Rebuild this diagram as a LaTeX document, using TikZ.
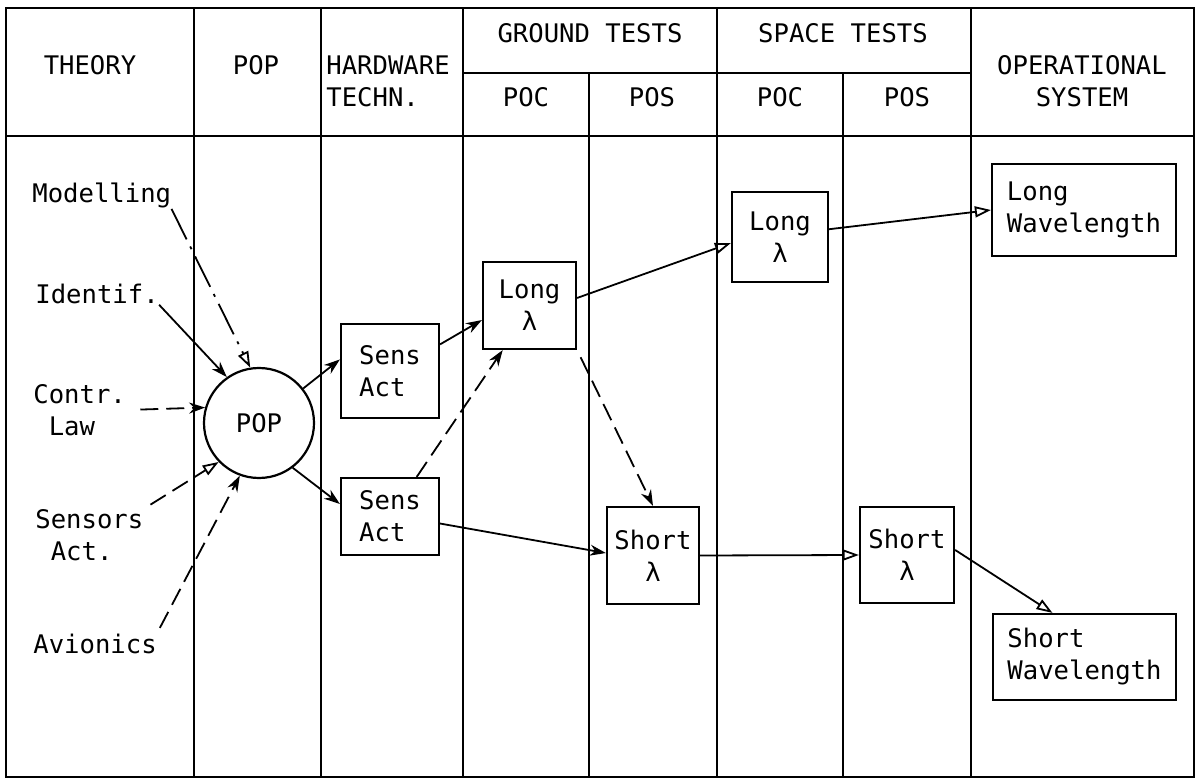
\documentclass[tikz,border=0pt]{standalone}
\usepackage{fontspec}
\setmainfont{DejaVu Sans Mono}
\usepackage{tikz}
\usetikzlibrary{arrows.meta}

\begin{document}
\begin{tikzpicture}[x=0.5pt, y=-0.5pt, >=Stealth,
    every node/.style={font=\fontsize{12.8}{16}\selectfont},
    lbl/.style={inner sep=0pt, align=left},
    blk/.style={draw, line width=1.1pt, inner sep=0pt},
    fillarr/.style={-{Stealth[length=8pt,width=5.5pt]}, line width=0.9pt},
    openarr/.style={-{Triangle[open,length=8pt,width=5.5pt]}, line width=0.9pt},
    dsh/.style={dash pattern=on 9pt off 4pt},
    dshdot/.style={dash pattern=on 17pt off 4pt on 1.5pt off 4pt}]
    \useasboundingbox (0,0) rectangle (1199,780);
    \draw[line width=1.4pt] (6,8) rectangle (1194,777);
    \foreach \x in {194,321,463,717,971}
        \draw[line width=1.4pt] (\x,8) -- (\x,777);
    \foreach \x in {589,843}
        \draw[line width=1.4pt] (\x,73) -- (\x,777);
    \draw[line width=1.4pt] (463,73) -- (971,73);
    \draw[line width=1.4pt] (6,136) -- (1194,136);
    \node (hth) at (90,65) {THEORY};
    \node (hpop) at (256,65) {POP};
    \node[lbl, anchor=west] (hhw) at (326,81) {HARDWARE\\TECHN.};
    \node (hgt) at (590,33) {GROUND TESTS};
    \node (hst) at (843,33) {SPACE TESTS};
    \foreach \x/\t/\n in {526/POC/gpoc,652/POS/gpos,780/POC/spoc,907/POS/spos}
        \node (\n) at (\x,97) {\t};
    \node[align=center] (hop) at (1082,81) {OPERATIONAL\\SYSTEM};
    \node[lbl, anchor=base west] (mod) at (32,203) {Modelling};
    \node[lbl, anchor=base west] (idf) at (35,304) {Identif.};
    \node[lbl, anchor=west] (ctl) at (33,410) {Contr.\\\phantom{x}Law};
    \node[lbl, anchor=west] (sns) at (35,535) {Sensors\\\phantom{x}Act.};
    \node[lbl, anchor=base west] (avi) at (33,653) {Avionics};
    \node[blk, circle, minimum size=55pt] (pop) at (259,423) {POP};
    \node[blk, minimum width=49pt, minimum height=47pt, align=left] (sa1) at (390,371) {Sens\\Act};
    \node[blk, minimum width=49pt, minimum height=38.5pt, align=left] (sa2) at (390,516.5) {Sens\\Act};
    \node[blk, minimum width=46.5pt, minimum height=43.5pt, align=center] (lg) at (529.5,305.5) {Long\\λ};
    \node[blk, minimum width=48pt, minimum height=45pt, align=center] (ls) at (780,237) {Long\\λ};
    \node[blk, minimum width=46pt, minimum height=48.5pt, align=center] (sg) at (653,555.5) {Short\\λ};
    \node[blk, minimum width=47pt, minimum height=48pt, align=center] (ss) at (907,555) {Short\\λ};
    \node[blk, minimum width=92pt, minimum height=46pt, align=left] (lw) at (1084,210) {Long\\Wavelength};
    \node[blk, minimum width=91.5pt, minimum height=43pt, align=left] (sw) at (1084.5,657) {Short\\Wavelength};
    \draw[dshdot, openarr] (mod.south east) -- (pop.99);
    \draw[fillarr] (idf.south east) -- (pop.125);
    \draw[dsh, fillarr, shorten <=7pt] (ctl.east) -- (pop.164);
    \draw[dsh, openarr, shorten <=4pt] (sns.north east) -- (pop.224);
    \draw[dsh, fillarr, shorten <=3pt] (avi.north east) -- (pop.250);
    \draw[fillarr] (pop.38) -- (sa1.167);
    \draw[fillarr] (pop.-53) -- (sa2.166);
    \draw[fillarr] (sa1.28) -- (lg.197);
    \draw[dsh, fillarr] (sa2.56) -- (lg.239);
    \draw[fillarr] (sa2.-8) -- (sg.177);
    \draw[dsh, fillarr, shorten <=4pt] (lg.south east) -- (sg.north);
    \draw[openarr] (lg.9) -- (ls.187);
    \draw[openarr] (ls.9) -- (lw.west);
    \draw[openarr] (sg.east) -- (ss.west);
    \draw[openarr] (ss.6) -- (sw.126);
\end{tikzpicture}
\end{document}
